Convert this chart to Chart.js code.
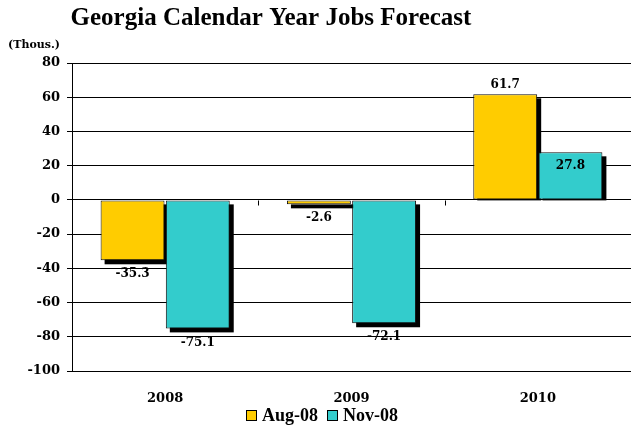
<!DOCTYPE html>
<html>
<head>
<meta charset="utf-8">
<title>Georgia Calendar Year Jobs Forecast</title>
<script src="https://cdn.jsdelivr.net/npm/chart.js@4.4.1/dist/chart.umd.min.js"></script>
<style>
  html, body { margin: 0; padding: 0; background: #fff; }
  #wrap { width: 631px; height: 427px; }
</style>
</head>
<body>
<div id="wrap"><canvas id="jobsChart" width="631" height="427"></canvas></div>
<script>
// forecast vintages, change in jobs (thousands)
var years = ['2008', '2009', '2010'];
var aug08 = [-35.3, -2.6, 61.7];
var nov08 = [-75.1, -72.1, 27.8];
var seriesNames = ['Aug-08', 'Nov-08'];
var yTicks = [80, 60, 40, 20, 0, -20, -40, -60, -80, -100];

var yellow = '#FFCC00';
var teal = '#33CCCC';

// black drop shadow behind each bar (offset right and away from the top edge)
var barShadow = {
    id: 'barShadow',
    beforeDatasetsDraw: function (chart) {
        var ctx = chart.ctx;
        ctx.save();
        ctx.fillStyle = '#000';
        chart.data.datasets.forEach(function (ds, di) {
            chart.getDatasetMeta(di).data.forEach(function (bar) {
                var p = bar.getProps(['x', 'y', 'base', 'width'], true);
                var left = p.x - p.width / 2 + 4;
                if (p.y <= p.base) {
                    // positive bar: shadow stops at the zero line
                    ctx.fillRect(left, p.y + 4, p.width, p.base - p.y - 3);
                } else {
                    ctx.fillRect(left, p.base + 4, p.width, p.y - p.base);
                }
            });
        });
        ctx.restore();
    }
};

// value labels, one per bar
var valueLabels = {
    id: 'valueLabels',
    afterDatasetsDraw: function (chart) {
        var ctx = chart.ctx;
        ctx.save();
        ctx.font = 'bold 12px "DejaVu Serif"';
        ctx.fillStyle = '#000';
        ctx.textAlign = 'center';
        ctx.textBaseline = 'middle';
        chart.data.datasets.forEach(function (ds, di) {
            var meta = chart.getDatasetMeta(di);
            meta.data.forEach(function (bar, i) {
                var v = ds.data[i];
                var y;
                if (ds.label === 'Nov-08' && v > 0) {
                    y = bar.y + 14; // sits inside the short bar
                } else if (v >= 0) {
                    y = bar.y - 9;
                } else {
                    y = bar.y + 14;
                }
                ctx.fillText(v.toFixed(1), bar.x, y);
            });
        });
        ctx.restore();
    }
};

// title, unit note, axis-crossing ticks and legend
var decorations = {
    id: 'decorations',
    afterDraw: function (chart) {
        var ctx = chart.ctx;
        var area = chart.chartArea;
        var yScale = chart.scales.y;
        ctx.save();
        ctx.fillStyle = '#000';
        ctx.textBaseline = 'middle';

        ctx.font = 'bold 25px "Liberation Serif"';
        ctx.textAlign = 'center';
        ctx.fillText('Georgia Calendar Year Jobs Forecast', 271, 19);

        ctx.font = 'bold 11px "DejaVu Serif"';
        ctx.textAlign = 'left';
        ctx.fillText('(Thous.)', 8, 45);

        // small tick marks on the zero line between categories
        var y0 = Math.round(yScale.getPixelForValue(0)) + 0.5;
        var step = (area.right - area.left) / years.length;
        ctx.strokeStyle = '#000';
        ctx.lineWidth = 1;
        for (var i = 1; i < years.length; i++) {
            var x = Math.round(area.left + step * i) + 0.5;
            ctx.beginPath();
            ctx.moveTo(x, y0);
            ctx.lineTo(x, y0 + 5);
            ctx.stroke();
        }

        // legend
        ctx.font = 'bold 18px "Liberation Serif"';
        var box = 11, gapText = 5, gapItem = 9;
        var widths = chart.data.datasets.map(function (ds) {
            return box + gapText + ctx.measureText(ds.label).width;
        });
        var total = widths.reduce(function (a, b) { return a + b; }, 0) + gapItem * (widths.length - 1);
        var lx = 322 - total / 2;
        var ly = 415;
        chart.data.datasets.forEach(function (ds, di) {
            ctx.fillStyle = ds.backgroundColor;
            ctx.fillRect(lx, ly - 5, box, box);
            ctx.strokeStyle = '#000';
            ctx.strokeRect(lx + 0.5, ly - 4.5, box - 1, box - 1);
            ctx.fillStyle = '#000';
            ctx.textAlign = 'left';
            ctx.fillText(ds.label, lx + box + gapText, ly + 1);
            lx += widths[di] + gapItem;
        });
        ctx.restore();
    }
};

var ctx = document.getElementById('jobsChart').getContext('2d');
var jobsChart = new Chart(ctx, {
    type: 'bar',
    data: {
        labels: years,
        datasets: [{
            label: seriesNames[0],
            data: aug08,
            backgroundColor: yellow,
            borderColor: '#111',
            borderWidth: 1,
            borderSkipped: false
        }, {
            label: seriesNames[1],
            data: nov08,
            backgroundColor: teal,
            borderColor: '#111',
            borderWidth: 1,
            borderSkipped: false
        }]
    },
    options: {
        responsive: false,
        animation: false,
        layout: { padding: { top: 63, left: 0, right: -3, bottom: 0 } },
        categoryPercentage: 0.7,
        barPercentage: 0.98,
        plugins: {
            legend: { display: false },
            title: { display: false },
            tooltip: { enabled: false }
        },
        scales: {
            x: {
                grid: { display: false },
                border: { color: '#000', width: 1 },
                ticks: { font: { family: 'DejaVu Serif', size: 13, weight: 'bold' }, color: '#000', padding: 12 },
                afterFit: function (scale) { scale.height = 56; }
            },
            y: {
                min: yTicks[yTicks.length - 1],
                max: yTicks[0],
                afterBuildTicks: function (scale) {
                    scale.ticks = yTicks.map(function (v) { return { value: v }; });
                },
                grid: { color: '#000', lineWidth: 1, tickLength: 5 },
                border: { color: '#000', width: 1 },
                ticks: { font: { family: 'DejaVu Serif', size: 13, weight: 'bold' }, color: '#000', padding: 7 },
                afterFit: function (scale) { scale.width = 72; }
            }
        }
    },
    plugins: [barShadow, valueLabels, decorations]
});
</script>
</body>
</html>
